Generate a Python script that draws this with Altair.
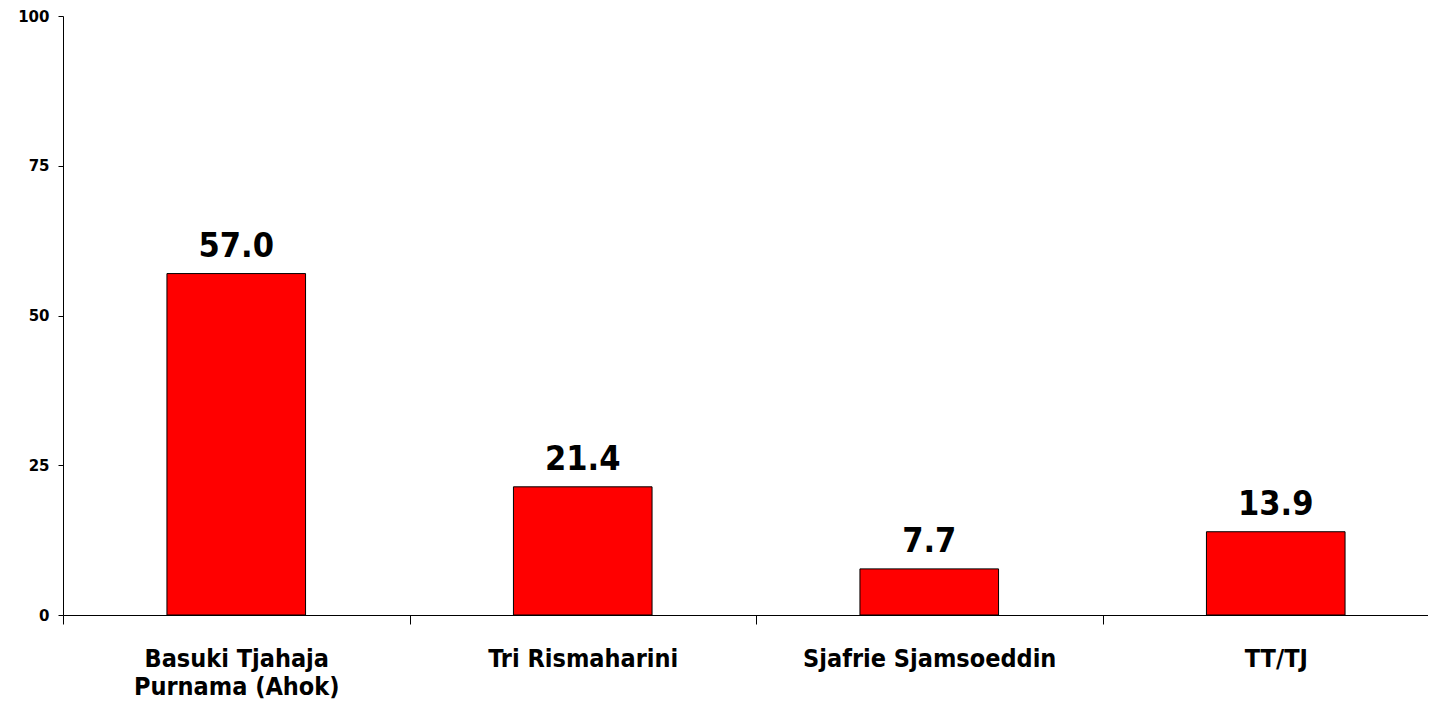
import altair as alt
import pandas as pd

categories = ["Basuki Tjahaja\nPurnama (Ahok)", "Tri Rismaharini", "Sjafrie Sjamsoeddin", "TT/TJ"]
values = [57.0, 21.4, 7.7, 13.9]
y_ticks = [0, 25, 50, 75, 100]

df = pd.DataFrame({"name": categories, "value": values})
df["label"] = df["value"].map(lambda v: f"{v:.1f}")

FONT = "DejaVu Sans"
FONT_C = "DejaVu Sans Condensed, DejaVu Sans"

x_enc = alt.X(
    "name:N",
    sort=categories,
    scale=alt.Scale(paddingInner=0, paddingOuter=0, range=[0, 1386]),
    axis=alt.Axis(
        title=None,
        labelAngle=0,
        labelFont=FONT_C,
        labelFontWeight="bold",
        labelFontSize=25,
        labelColor="black",
        labelLineHeight=28,
        labelPadding=22,
        labelExpr="split(datum.label, '\\n')",
        tickBand="extent",
        tickSize=9,
        tickColor="black",
        tickWidth=1,
        domainColor="black",
        domainWidth=1,
        labelLimit=400,
        grid=False,
    ),
)

y_enc = alt.Y(
    "value:Q",
    scale=alt.Scale(domain=[0, 100], nice=False),
    axis=alt.Axis(
        title=None,
        values=y_ticks,
        grid=False,
        labelFont=FONT,
        labelFontWeight="bold",
        labelFontSize=15,
        labelColor="black",
        labelPadding=9,
        tickSize=5,
        tickColor="black",
        tickWidth=1,
        domainColor="black",
        domainWidth=1,
    ),
)

base = alt.Chart(df)

bars = base.mark_bar(
    color="#ff0000", stroke="black", strokeWidth=1, width=alt.RelativeBandSize(0.4)
).encode(x=x_enc, y=y_enc)

text = base.mark_text(
    font=FONT_C, fontWeight="bold", fontSize=34, color="black", baseline="alphabetic", dy=-17
).encode(
    x=alt.X("name:N", sort=categories),
    y=alt.Y("value:Q"),
    text="label:N",
)

chart = (
    alt.layer(bars, text)
    .properties(
        width=1365,
        height=599,
        autosize=alt.AutoSizeParams(type="none"),
        padding={"left": 55, "top": 8, "right": 0, "bottom": 87},
        view=alt.ViewBackground(stroke="transparent", strokeWidth=0),
    )
    .configure_view(stroke="transparent", strokeWidth=0)
    .configure_axis(grid=False)
    .configure(background="white")
)

chart.save("out.html", embed_options={"renderer": "svg", "actions": False})
